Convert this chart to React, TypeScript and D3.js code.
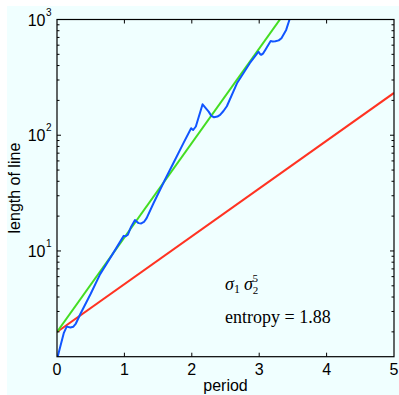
import React from "react";
import * as d3 from "d3";

const blueT = [0.01, 0.05, 0.1, 0.144, 0.17, 0.2, 0.24, 0.28, 0.35, 0.5, 0.64, 0.82, 0.99, 1.02, 1.05, 1.1, 1.157, 1.18, 1.21, 1.25, 1.29, 1.33, 1.43, 1.6, 1.75, 1.874, 1.99, 2.02, 2.06, 2.16, 2.25, 2.29, 2.33, 2.38, 2.42, 2.47, 2.52, 2.67, 2.86, 2.99, 3.01, 3.03, 3.06, 3.09, 3.17, 3.2, 3.24, 3.29, 3.33, 3.4, 3.45, 3.5];
const blueV = [1.22, 1.5, 1.95, 2.22, 2.2, 2.18, 2.21, 2.36, 2.88, 4.27, 6.31, 9.3, 13.5, 13.4, 13.8, 16.2, 18.5, 18.0, 17.4, 17.3, 17.8, 19.2, 25.7, 41.0, 61.1, 85.1, 115, 111, 119, 185, 160, 147, 143, 145, 150, 162, 178, 281, 419, 527, 505, 495, 510, 546, 652, 645, 648, 660, 690, 813, 1000, 1200];
const greenT = [0, 3.4];
const greenV = [2, 1190];
const redT = [0, 5];
const redV = [2, 232];
const xTicks = [0, 1, 2, 3, 4, 5];
const yMajor = [10, 100, 1000];
const yExp = ["1", "2", "3"];
const yMinor = [2, 3, 4, 5, 6, 7, 8, 9, 20, 30, 40, 50, 60, 70, 80, 90, 200, 300, 400, 500, 600, 700, 800, 900];

export default function App() {
  const W = 399, H = 395;
  const L = 57, R = 394, T = 19.5, B = 356.7;
  const x = d3.scaleLinear().domain([0, 5]).range([L, R]);
  const y = d3.scaleLog().domain([1.22, 1000]).range([B, T]);
  const lin = d3.line<[number, number]>().x(d => x(d[0])).y(d => y(d[1]));
  const blue = lin(blueT.map((t, i) => [t, blueV[i]]) as [number, number][]);
  const green = lin(greenT.map((t, i) => [t, greenV[i]]) as [number, number][]);
  const red = lin(redT.map((t, i) => [t, redV[i]]) as [number, number][]);
  const sans = "'Liberation Sans', Arial, sans-serif";
  const serif = "'Liberation Serif', 'Times New Roman', serif";
  return (
    <svg width={W} height={H} style={{ position: "absolute", left: 0, top: 0 }}>
      <rect x={0} y={0} width={W} height={H} fill="#ffffff" />
      <rect x={7} y={6} width={W - 7} height={H - 6} fill="#f0ffff" />
      <defs>
        <clipPath id="plot"><rect x={L} y={T} width={R - L} height={B - T} /></clipPath>
      </defs>
      <g clipPath="url(#plot)" fill="none" strokeWidth={2} strokeLinejoin="round">
        <path d={red || ""} stroke="#ff3322" />
        <path d={green || ""} stroke="#44dd22" />
        <path d={blue || ""} stroke="#1155ff" />
      </g>
      <rect x={L} y={T} width={R - L} height={B - T} fill="none" stroke="#000" strokeWidth={1.2} />
      {xTicks.slice(1, -1).map(t => (
        <g key={"xt" + t} stroke="#000" strokeWidth={1}>
          <line x1={x(t)} x2={x(t)} y1={B} y2={B - 4} />
          <line x1={x(t)} x2={x(t)} y1={T} y2={T + 4} />
        </g>
      ))}
      {yMajor.map(v => (
        <g key={"ym" + v} stroke="#000" strokeWidth={1}>
          <line x1={L} x2={L + 4} y1={y(v)} y2={y(v)} />
          <line x1={R} x2={R - 4} y1={y(v)} y2={y(v)} />
        </g>
      ))}
      {yMinor.map(v => (
        <g key={"yn" + v} stroke="#000" strokeWidth={1}>
          <line x1={L} x2={L + 2.5} y1={y(v)} y2={y(v)} />
          <line x1={R} x2={R - 2.5} y1={y(v)} y2={y(v)} />
        </g>
      ))}
      {xTicks.map(t => (
        <text key={"xl" + t} x={x(t)} y={375} textAnchor="middle" fontFamily={sans} fontSize={16} fill="#000">{t}</text>
      ))}
      {yMajor.map((v, i) => (
        <g key={"yl" + v} fontFamily={sans} fill="#000">
          <text x={45.5} y={y(v) + 6} textAnchor="end" fontSize={16}>10</text>
          <text x={46} y={y(v) - 4} textAnchor="start" fontSize={10}>{yExp[i]}</text>
        </g>
      ))}
      <text x={(L + R) / 2} y={390.5} textAnchor="middle" fontFamily={sans} fontSize={16} fill="#000">period</text>
      <text transform={`translate(19.5,${(T + B) / 2}) rotate(-90)`} textAnchor="middle" fontFamily={sans} fontSize={16} fill="#000">length of line</text>
      <text x={225} y={290} fontFamily={serif} fontSize={18} fill="#000">
        <tspan fontStyle="italic">σ</tspan>
        <tspan fontSize={12} dy={3}>1</tspan>
        <tspan dy={-3} dx={4} fontStyle="italic">σ</tspan>
        <tspan fontSize={11} dy={4}>2</tspan>
      </text>
      <text x={252.5} y={281.5} fontFamily={serif} fontSize={11} fill="#000">5</text>
      <text x={225} y={323} fontFamily={serif} fontSize={18} fill="#000">entropy = 1.88</text>
    </svg>
  );
}
